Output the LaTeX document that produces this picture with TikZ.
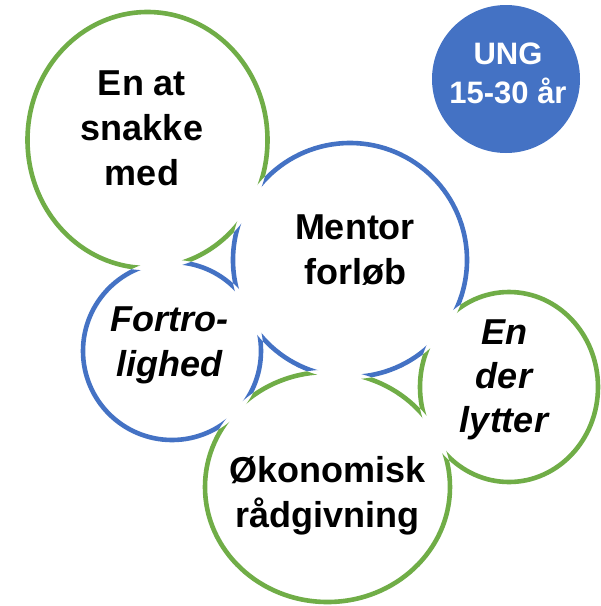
\documentclass[tikz,border=0pt]{standalone}
\usepackage{fontspec}
\setmainfont{Liberation Sans}
\definecolor{pgreen}{HTML}{70AD47}
\definecolor{pblue}{HTML}{4472C4}
\tikzset{
  ring/.style={line width=4.6pt},
  lbl/.style={align=center, inner sep=0pt, font=\fontsize{36}{45}\selectfont\bfseries},
  ilbl/.style={lbl, font=\fontsize{36}{45}\selectfont\bfseries\itshape},
}
\begin{document}
\begin{tikzpicture}[x=1pt,y=-1pt]
\useasboundingbox (0,0) rectangle (601,606);
\fill[white] (0,0) rectangle (601,606);
% ring A (green, top left): outside B, C
\begin{scope}[even odd rule]
\clip (-10,-10) rectangle (620,620) (350,260) circle [radius=119.3];
\clip (-10,-10) rectangle (620,620) (172,351) circle [radius=91.3];
\draw[ring, pgreen] (147.5,140) ellipse [x radius=120, y radius=128];
\end{scope}
% ring B (blue, Mentor): outside A, C, D, E
\begin{scope}[even odd rule]
\clip (-10,-10) rectangle (620,620) (147.5,140) ellipse [x radius=122.3, y radius=130.3];
\clip (-10,-10) rectangle (620,620) (172,351) circle [radius=91.3];
\clip (-10,-10) rectangle (620,620) (327.5,487) ellipse [x radius=124.8, y radius=117.3];
\clip (-10,-10) rectangle (620,620) (509,387) ellipse [x radius=91.3, y radius=97.3];
\draw[ring, pblue] (350,260) circle [radius=117];
\end{scope}
% ring C (blue, Fortrolighed): outside A, B, D
\begin{scope}[even odd rule]
\clip (-10,-10) rectangle (620,620) (147.5,140) ellipse [x radius=122.3, y radius=130.3];
\clip (-10,-10) rectangle (620,620) (350,260) circle [radius=119.3];
\clip (-10,-10) rectangle (620,620) (327.5,487) ellipse [x radius=124.8, y radius=117.3];
\draw[ring, pblue] (172,351) circle [radius=89];
\end{scope}
% ring D (green, Okonomisk): outside B, C, E
\begin{scope}[even odd rule]
\clip (-10,-10) rectangle (620,620) (350,260) circle [radius=119.3];
\clip (-10,-10) rectangle (620,620) (172,351) circle [radius=91.3];
\clip (-10,-10) rectangle (620,620) (509,387) ellipse [x radius=91.3, y radius=97.3];
\draw[ring, pgreen] (327.5,487) ellipse [x radius=122.5, y radius=115];
\end{scope}
% ring E (green, En der lytter): outside B, D
\begin{scope}[even odd rule]
\clip (-10,-10) rectangle (620,620) (350,260) circle [radius=119.3];
\clip (-10,-10) rectangle (620,620) (327.5,487) ellipse [x radius=124.8, y radius=117.3];
\draw[ring, pgreen] (509,387) ellipse [x radius=89, y radius=95];
\end{scope}
% UNG badge
\fill[pblue] (506,79) circle [radius=74];
% texts
\node[lbl] (snak) at (142,128) {En at\\snakke\\med};
\node[lbl] (ment) at (355,249.6) {Mentor\\forløb};
\node[ilbl] (fort) at (169,345.4) {Fortro-\\lighed};
\node[lbl] (okon) at (327.5,496) {Økonomisk\\rådgivning};
\node[ilbl, font=\fontsize{36}{44}\selectfont\bfseries\itshape] (lyt) at (504,379.4) {En\\der\\lytter};
\node[lbl, text=white, font=\fontsize{31}{39}\selectfont\bfseries] (ung) at (508,73.4) {UNG\\15-30 år};
\end{tikzpicture}
\end{document}
